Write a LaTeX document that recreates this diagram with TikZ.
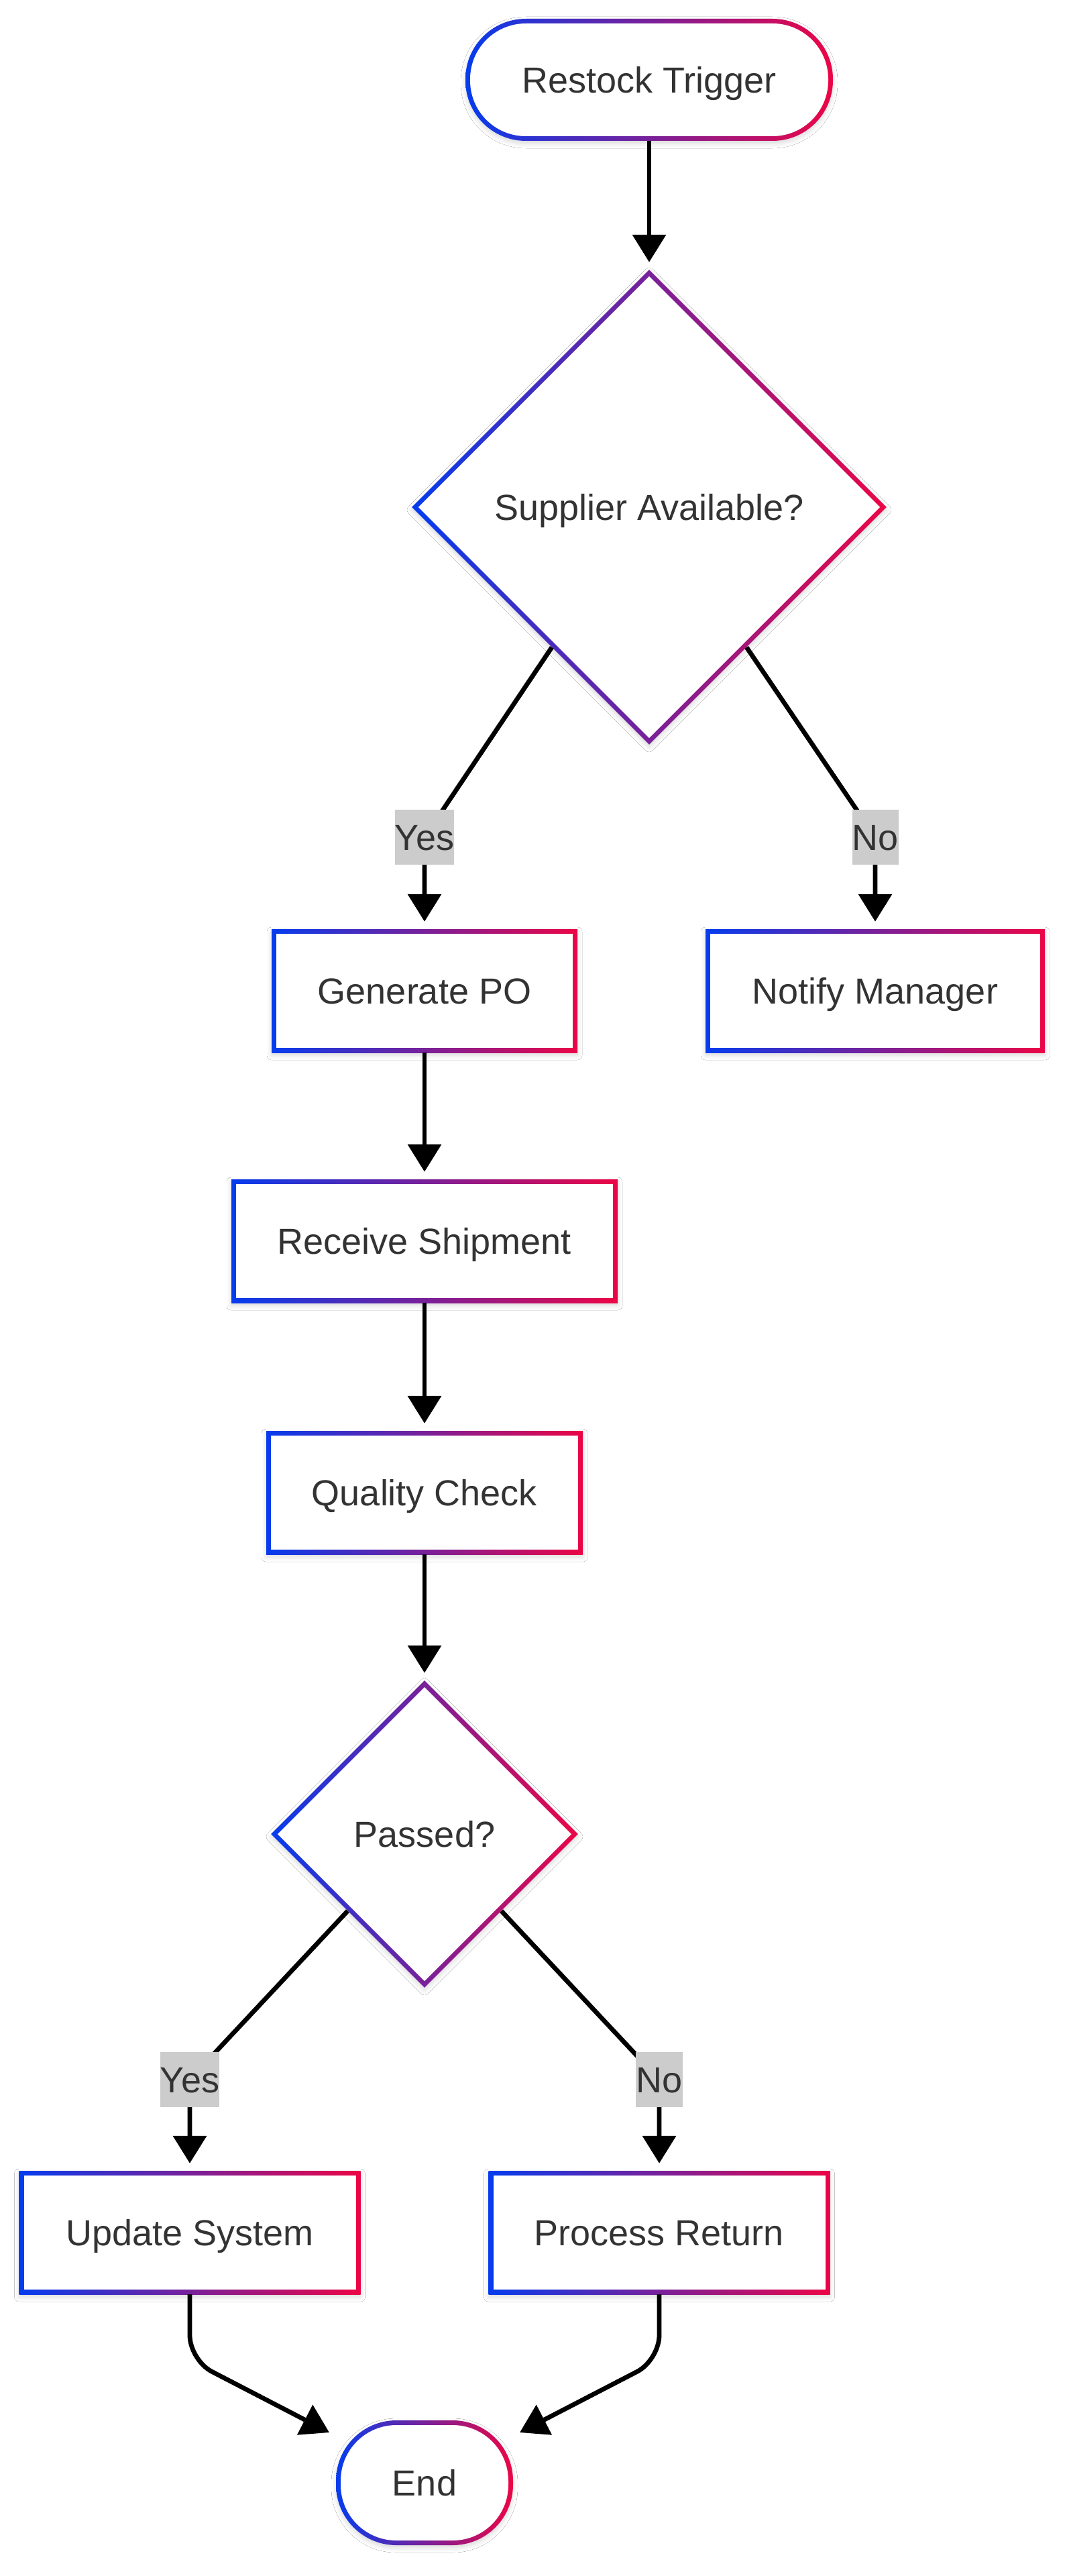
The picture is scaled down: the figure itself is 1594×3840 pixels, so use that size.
\documentclass[tikz,border=0pt]{standalone}
\usepackage{fontspec}
\setmainfont{Liberation Sans}
\usetikzlibrary{shapes.geometric, arrows.meta, calc, shadows.blur}
\definecolor{gblue}{RGB}{5,60,238}
\definecolor{gred}{RGB}{236,5,70}
\definecolor{txtgray}{RGB}{51,51,51}
\definecolor{lblgray}{RGB}{204,204,204}
\tikzset{
  basenode/.style={inner sep=0pt, fill=white, text=txtgray,
    font=\fontsize{54pt}{64pt}\selectfont, text height=38.7pt, text depth=0pt,
    blur shadow={shadow xshift=0pt, shadow yshift=-4pt, shadow blur radius=7pt, shadow opacity=15}},
  procbox/.style={basenode, rectangle, minimum width=#1, minimum height=184pt,
    path picture={
      \shade[left color=gblue, right color=gred] (path picture bounding box.south west) rectangle (path picture bounding box.north east);
      \fill[white] ([shift={(7pt,7pt)}]path picture bounding box.south west) rectangle ([shift={(-7pt,-7pt)}]path picture bounding box.north east);
    }},
  termbox/.style={basenode, rectangle, rounded corners=90pt, minimum width=#1, minimum height=182pt,
    path picture={
      \shade[left color=gblue, right color=gred] (path picture bounding box.south west) rectangle (path picture bounding box.north east);
      \fill[white, rounded corners=83pt] ([shift={(7pt,7pt)}]path picture bounding box.south west) rectangle ([shift={(-7pt,-7pt)}]path picture bounding box.north east);
    }},
  decbox/.style={basenode, diamond, aspect=1, minimum width=#1, minimum height=#1,
    path picture={
      \shade[left color=gblue, right color=gred] (path picture bounding box.south west) rectangle (path picture bounding box.north east);
      \fill[white] ([yshift=-9.9pt]path picture bounding box.north) -- ([xshift=-9.9pt]path picture bounding box.east) -- ([yshift=9.9pt]path picture bounding box.south) -- ([xshift=9.9pt]path picture bounding box.west) -- cycle;
    }},
  edgeline/.style={draw=black, line width=6.8pt, -{Triangle[length=41pt,width=49pt]}, rounded corners=30pt},
  lbl/.style={fill=lblgray, text=txtgray, font=\fontsize{54pt}{64pt}\selectfont,
    text height=38.7pt, text depth=0pt, inner xsep=0pt, inner ysep=0pt, minimum height=82pt},
}
\begin{document}
\begin{tikzpicture}[x=1pt, y=-1pt]
\fill[white] (0,0) rectangle (1594,3840);
\useasboundingbox (0,0) rectangle (1594,3840);

% nodes
\node[termbox=548pt] (restock) at (968,119) {Restock Trigger};
\node[decbox=708pt] (d1) at (968,756) {Supplier Available?};
\node[procbox=456pt] (gen) at (633,1477) {Generate PO};
\node[procbox=506pt] (notify) at (1305,1477) {Notify Manager};
\node[procbox=576pt] (recv) at (633,1850) {Receive Shipment};
\node[procbox=472pt] (qc) at (633,2225) {Quality Check};
\node[decbox=458pt] (d2) at (633,2734) {Passed?};
\node[procbox=509pt] (upd) at (283,3328) {Update System};
\node[procbox=509pt] (ret) at (983,3328) {Process Return};
\node[termbox=264pt, minimum height=186pt] (end) at (633,3701) {End};

% label positions
\coordinate (ly1) at (633,1248);
\coordinate (ln1) at (1305,1248);
\coordinate (ly2) at (283,3100);
\coordinate (ln2) at (983,3100);
\coordinate (t1) at ($(end.center)+(-142,-75)$);
\coordinate (t2) at ($(end.center)+(142,-75)$);

% edges
\draw[edgeline, shorten >=11pt] (restock.south) -- (d1.north);
\draw[edgeline, shorten >=11pt] ($(d1.west)!0.59!(d1.south)$) -- (ly1) -- (gen.north);
\draw[edgeline, shorten >=11pt] ($(d1.east)!0.59!(d1.south)$) -- (ln1) -- (notify.north);
\draw[edgeline, shorten >=11pt] (gen.south) -- (recv.north);
\draw[edgeline, shorten >=11pt] (recv.south) -- (qc.north);
\draw[edgeline, shorten >=11pt] (qc.south) -- (d2.north);
\draw[edgeline, shorten >=11pt] ($(d2.west)!0.5!(d2.south)$) -- (ly2) -- (upd.north);
\draw[edgeline, shorten >=11pt] ($(d2.east)!0.5!(d2.south)$) -- (ln2) -- (ret.north);
\draw[edgeline, rounded corners=37pt] (upd.south) -- ++(0,98) -- (t1);
\draw[edgeline, rounded corners=37pt] (ret.south) -- ++(0,98) -- (t2);

% edge labels
\node[lbl] (lyes1) at (ly1) {Yes};
\node[lbl] (lno1) at (ln1) {No};
\node[lbl] (lyes2) at (ly2) {Yes};
\node[lbl] (lno2) at (ln2) {No};
\end{tikzpicture}
\end{document}
